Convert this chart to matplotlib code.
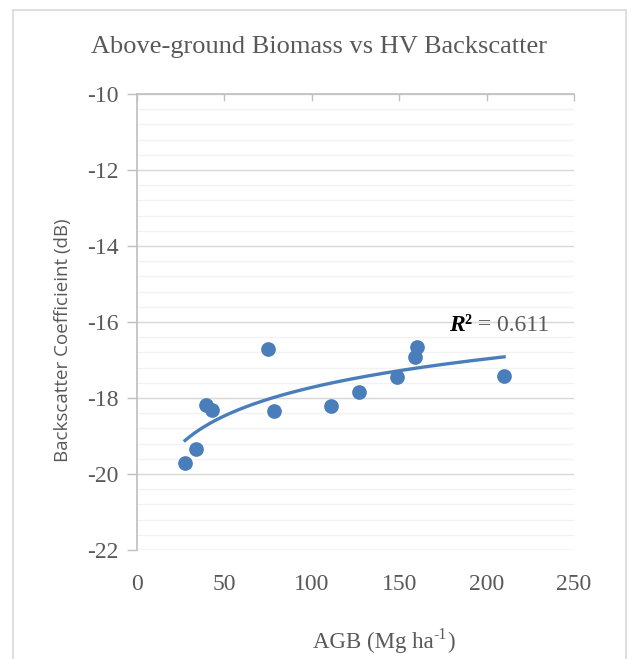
import numpy as np
import matplotlib

matplotlib.use("Agg")
import matplotlib.pyplot as plt
from matplotlib.patches import Rectangle

# AGB (Mg/ha) and HV backscatter (dB)
agb = [27.5, 33.8, 39.3, 42.7, 75.1, 78.4, 110.8, 127.0, 148.7, 159.0, 160.0, 210.0]
hv_db = [-19.72, -19.34, -18.18, -18.32, -16.72, -18.34, -18.21, -17.83, -17.44, -16.93, -16.67, -17.41]
r2_text = "0.611"

x_ticks = [0, 50, 100, 150, 200, 250]
y_ticks = [-22, -20, -18, -16, -14, -12, -10]

plt.rcParams["axes.unicode_minus"] = False

serif = ["Liberation Serif", "DejaVu Serif"]
sans = ["Open Sans", "DejaVu Sans"]
txt = "#595959"
blue = "#4a7ebb"

fig = plt.figure(figsize=(6.35, 6.59), dpi=100)
fig.patches.append(Rectangle((13 / 635, -0.01), 613 / 635, 1 - 10 / 659 + 0.01,
                             transform=fig.transFigure, fill=False,
                             edgecolor="#d9d9d9", linewidth=1.2))

ax = fig.add_axes([137 / 635, 1 - 550 / 659, 437 / 635, 456 / 659])
ax.set_xlim(0, 250)
ax.set_ylim(-22, -10)

# minor + major horizontal gridlines
for y in np.arange(-22, -10, 0.4):
    ax.axhline(y, color="#f2f2f2", linewidth=1.0, zorder=0)
for y in y_ticks:
    ax.axhline(y, color="#d9d9d9", linewidth=1.0, zorder=0)

for side in ("right", "bottom"):
    ax.spines[side].set_visible(False)
for side in ("left", "top"):
    ax.spines[side].set_color("#bfbfbf")
    ax.spines[side].set_linewidth(1.2)

ax.set_yticks(y_ticks)
ax.set_xticks(x_ticks)
ax.tick_params(axis="y", direction="out", length=7, color="#bfbfbf", width=1,
               labelsize=17, labelcolor=txt, pad=6)
ax.tick_params(axis="x", direction="in", length=5, color="#bfbfbf", width=1,
               top=True, bottom=False, labelsize=17, labelcolor=txt, pad=17)
for lab in ax.get_xticklabels() + ax.get_yticklabels():
    lab.set_family(serif)

ax.scatter(agb, hv_db, s=112, color=blue, zorder=3, linewidths=0)

# logarithmic trendline
xa = np.array(agb)
a, b = np.polyfit(np.log(xa), np.array(hv_db), 1)
xs = np.linspace(xa.min(), xa.max(), 200)
ax.plot(xs, a * np.log(xs) + b, color=blue, linewidth=2.4, zorder=2)

r_lab = ax.text(178.5, -16.08, "R", fontsize=17, color="black", family=serif,
                style="italic", weight="bold", va="center", ha="left")
sq_lab = ax.annotate("\u00b2", xy=(1, 0.5), xycoords=r_lab, fontsize=17,
                     color="black", family=serif, weight="bold",
                     va="center", ha="left")
ax.annotate(" = " + r2_text, xy=(1, 0.5), xycoords=sq_lab, fontsize=17,
            color=txt, family=serif, va="center", ha="left")

fig.text(319 / 635, 1 - 47 / 659, "Above-ground Biomass vs HV Backscatter",
         ha="center", va="center", fontsize=19, color=txt, family=serif)
fig.text(63 / 635, 1 - 340 / 659, "Backscatter Coefficieint (dB)", rotation=90,
         ha="center", va="center", fontsize=13.5, color=txt, family=sans)

# x label with a plain hyphen in the superscript
x_lab = fig.text(313 / 635, 1 - 642 / 659, "AGB (Mg ha", ha="left", va="center",
                 fontsize=16.5, color=txt, family=serif)
sup_lab = ax.annotate("-1", xy=(1, 0.45), xycoords=x_lab, fontsize=11.5,
                      color=txt, family=serif, ha="left", va="bottom",
                      annotation_clip=False)
ax.annotate(")", xy=(1, 0), xycoords=(sup_lab, x_lab), fontsize=16.5, color=txt,
            family=serif, ha="left", va="bottom", annotation_clip=False)

fig.savefig("out.png", dpi=100)
